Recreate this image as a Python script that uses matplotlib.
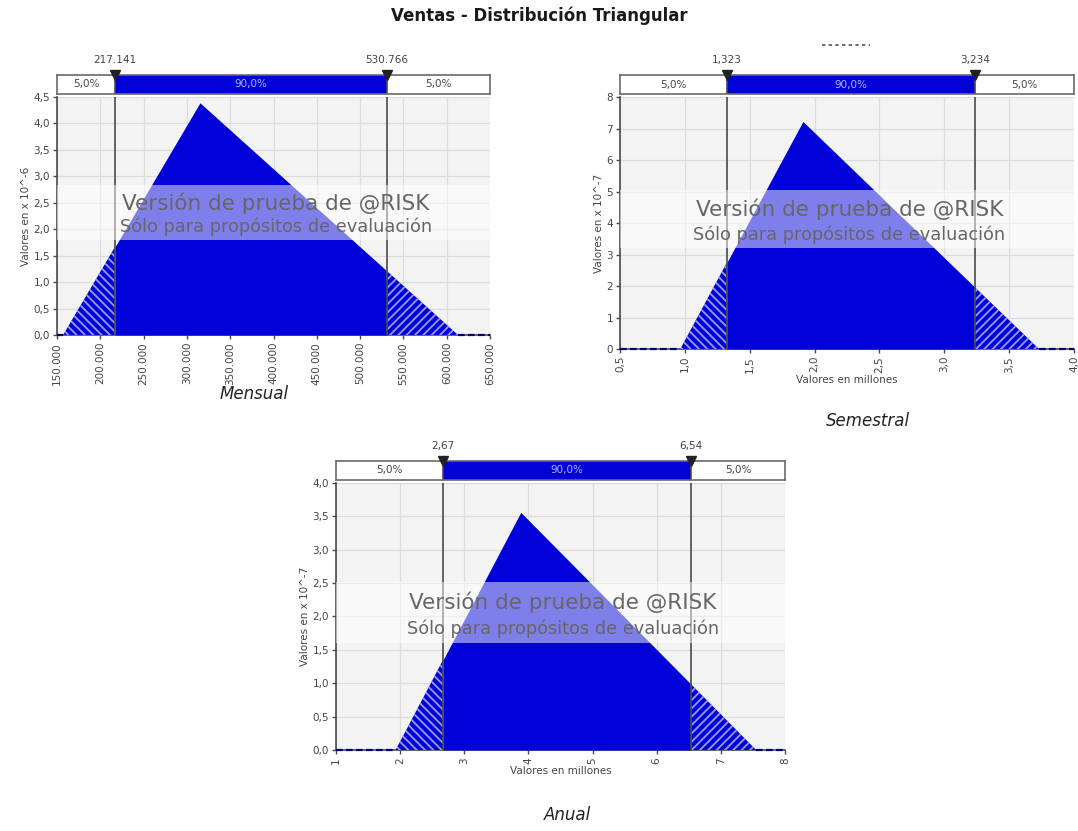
import matplotlib
matplotlib.use("Agg")
import matplotlib.pyplot as plt
import numpy as np
from matplotlib.lines import Line2D

# ---- data -------------------------------------------------------------
# triangular shapes: (min, mode, max) and peak density in the axis units
mensual_tri = [157000, 315000, 613000]
mensual_peak = 4.39            # x 10^-6
mensual_p5, mensual_p95 = 217141, 530766
mensual_p_labels = ["217.141", "530.766"]
mensual_xticks = [150000, 200000, 250000, 300000, 350000, 400000,
                  450000, 500000, 550000, 600000, 650000]
mensual_yticks = [0.0, 0.5, 1.0, 1.5, 2.0, 2.5, 3.0, 3.5, 4.0, 4.5]

semestral_tri = [0.965, 1.91, 3.73]
semestral_peak = 7.23          # x 10^-7
semestral_p5, semestral_p95 = 1.323, 3.234
semestral_p_labels = ["1,323", "3,234"]
semestral_xticks = [0.5, 1.0, 1.5, 2.0, 2.5, 3.0, 3.5, 4.0]
semestral_yticks = [0, 1, 2, 3, 4, 5, 6, 7, 8]

anual_tri = [1.93, 3.88, 7.55]
anual_peak = 3.56              # x 10^-7
anual_p5, anual_p95 = 2.67, 6.54
anual_p_labels = ["2,67", "6,54"]
anual_xticks = [1, 2, 3, 4, 5, 6, 7, 8]
anual_yticks = [0.0, 0.5, 1.0, 1.5, 2.0, 2.5, 3.0, 3.5, 4.0]

tail_pct = ["5,0%", "90,0%", "5,0%"]

# ---- style ------------------------------------------------------------
BLUE = "#0000d8"
HATCH = "#9a9aff"
BG = "#f3f3f3"
GRID = "#dcdcdc"
DARK = "#4a4a4a"
TXT = "#444444"
plt.rcParams["font.family"] = ["DejaVu Sans"]
plt.rcParams["hatch.linewidth"] = 1.3


def fmt_thousands(v):
    return f"{int(round(v)):,}".replace(",", ".")


def fmt_dec(v, nd):
    return f"{v:.{nd}f}".replace(".", ",")


def draw_panel(fig, rect, tri, peak, p5, p95, p_labels, xticks, xtick_labels,
               yticks, ytick_labels, ylabel, xlabel=None):
    left, bottom, width, height = rect
    ax = fig.add_axes([left, bottom, width, height])
    bar = fig.add_axes([left, bottom + height + 0.004, width, 0.0225])
    xmin, xmax = xticks[0], xticks[-1]

    ax.set_facecolor(BG)
    ax.set_xlim(xmin, xmax)
    ax.set_ylim(yticks[0], yticks[-1])
    ax.set_xticks(xticks)
    ax.set_xticklabels(xtick_labels, rotation=90, fontsize=7.5, color=TXT)
    ax.set_yticks(yticks)
    ax.set_yticklabels(ytick_labels, fontsize=7.5, color=TXT)
    ax.grid(True, color=GRID, linewidth=0.9)
    ax.set_axisbelow(True)
    for s in ("top", "right"):
        ax.spines[s].set_visible(False)
    for s in ("left", "bottom"):
        ax.spines[s].set_color(DARK)
        ax.spines[s].set_linewidth(1.2)
    ax.tick_params(axis="both", direction="out", length=3, width=1,
                   color=DARK, pad=2)
    ax.set_ylabel(ylabel, fontsize=7.5, color=TXT, labelpad=2)
    if xlabel:
        ax.set_xlabel(xlabel, fontsize=7.5, color=TXT, labelpad=2)

    # triangle body
    tx = np.array([tri[0], tri[1], tri[2]], dtype=float)
    ty = np.array([0.0, peak, 0.0])
    ax.fill_between([p5, tri[1], p95],
                    [np.interp(p5, tx, ty), peak, np.interp(p95, tx, ty)],
                    0, color=BLUE, linewidth=0, zorder=3)
    # hatched tails
    ax.fill_between([tri[0], p5], [0, np.interp(p5, tx, ty)], 0,
                    facecolor=BLUE, edgecolor=HATCH, hatch="\\\\\\\\",
                    linewidth=0, zorder=3)
    ax.fill_between([p95, tri[2]], [np.interp(p95, tx, ty), 0], 0,
                    facecolor=BLUE, edgecolor=HATCH, hatch="////",
                    linewidth=0, zorder=3)
    # zero density outside the support
    ax.plot([xmin, tri[0]], [0, 0], color="#000070", lw=1.6,
            ls=(0, (3, 1.5)), zorder=4, clip_on=False)
    ax.plot([tri[2], xmax], [0, 0], color="#000070", lw=1.6,
            ls=(0, (3, 1.5)), zorder=4, clip_on=False)

    # percentile markers
    for p in (p5, p95):
        ax.axvline(p, color=DARK, lw=1.2, zorder=5)

    # watermark band
    y0, y1 = yticks[0], yticks[-1]
    span = y1 - y0
    band_lo = y0 + 0.40 * span
    band_hi = y0 + 0.63 * span
    ax.axhspan(band_lo, band_hi, color="white", alpha=0.5, lw=0, zorder=6)
    xc = (xmin + xmax) / 2 + 0.005 * (xmax - xmin)
    ax.text(xc, band_lo + 0.67 * (band_hi - band_lo),
            "Versión de prueba de @RISK", ha="center", va="center",
            fontsize=15.5, color="#666666", zorder=7)
    ax.text(xc, band_lo + 0.24 * (band_hi - band_lo),
            "Sólo para propósitos de evaluación", ha="center", va="center",
            fontsize=12.8, color="#666666", zorder=7)

    # percentile bar above the plot
    bar.set_xlim(xmin, xmax)
    bar.set_ylim(0, 1)
    bar.set_xticks([])
    bar.set_yticks([])
    for s in bar.spines.values():
        s.set_color("#6a6a6a")
        s.set_linewidth(1.2)
    bar.axvspan(xmin, p5, color="white", lw=0)
    bar.axvspan(p5, p95, color=BLUE, lw=0)
    bar.axvspan(p95, xmax, color="white", lw=0)
    for p in (p5, p95):
        bar.axvline(p, color=DARK, lw=1.2)
    bar.text((xmin + p5) / 2, 0.5, tail_pct[0], ha="center", va="center",
             fontsize=7.5, color=TXT)
    bar.text((p5 + p95) / 2, 0.5, tail_pct[1], ha="center", va="center",
             fontsize=7.5, color="#b4b4ff")
    bar.text((p95 + xmax) / 2, 0.5, tail_pct[2], ha="center", va="center",
             fontsize=7.5, color=TXT)
    bar.plot([p5, p95], [1.0, 1.0], ls="none", marker="v", ms=7,
             color="#222222", clip_on=False, zorder=8)
    for p, lab in zip((p5, p95), p_labels):
        bar.text(p, 1.55, lab, ha="center", va="bottom", fontsize=7.5,
                 color=TXT)
    return ax


fig = plt.figure(figsize=(10.78, 8.31), dpi=100)

fig.text(0.5, 0.981, "Ventas - Distribución Triangular", ha="center",
         va="center", fontsize=12, fontweight="bold", color="#1a1a1a")

draw_panel(fig, [0.0529, 0.5969, 0.4017, 0.2864],
           mensual_tri, mensual_peak, mensual_p5, mensual_p95,
           mensual_p_labels, mensual_xticks,
           [fmt_thousands(v) for v in mensual_xticks],
           mensual_yticks, [fmt_dec(v, 1) for v in mensual_yticks],
           "Valores en x 10^-6")

draw_panel(fig, [0.5751, 0.5800, 0.4212, 0.3030],
           semestral_tri, semestral_peak, semestral_p5, semestral_p95,
           semestral_p_labels, semestral_xticks,
           [fmt_dec(v, 1) for v in semestral_xticks],
           semestral_yticks, [str(v) for v in semestral_yticks],
           "Valores en x 10^-7", "Valores en millones")

draw_panel(fig, [0.3117, 0.0975, 0.4165, 0.3213],
           anual_tri, anual_peak, anual_p5, anual_p95,
           anual_p_labels, anual_xticks,
           [str(v) for v in anual_xticks],
           anual_yticks, [fmt_dec(v, 1) for v in anual_yticks],
           "Valores en x 10^-7", "Valores en millones")

# panel captions
fig.text(254 / 1078, 1 - 394 / 831, "Mensual", ha="center", va="center",
         fontsize=12, style="italic", color="#222222")
fig.text(868 / 1078, 1 - 421 / 831, "Semestral", ha="center", va="center",
         fontsize=12, style="italic", color="#222222")
fig.text(568 / 1078, 1 - 815 / 831, "Anual", ha="center", va="center",
         fontsize=12, style="italic", color="#222222")

# clipped remnant of the semestral chart header
fig.add_artist(Line2D([822 / 1078, 870 / 1078], [1 - 45 / 831, 1 - 45 / 831],
                      color="#555555", lw=1.2, ls=(0, (2, 2))))

fig.savefig("out.png", dpi=100, facecolor="white")
